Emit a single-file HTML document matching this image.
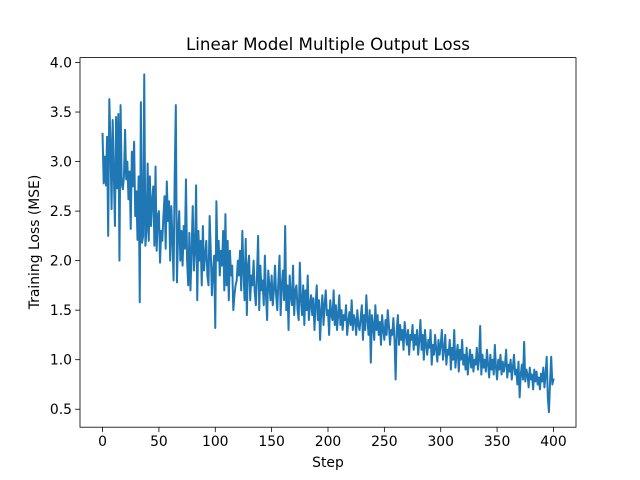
<!DOCTYPE html>
<html><head><meta charset="utf-8">
<style>
html,body{margin:0;padding:0;background:#fff;}
svg{display:block;font-family:"DejaVu Sans","Liberation Sans",sans-serif;}
</style></head>
<body>
<svg id="chart" width="640" height="480" viewBox="0 0 640 480">
<rect width="640" height="480" fill="#fff"/>
<text x="328" y="50" text-anchor="middle" font-size="16.7" fill="#000">Linear Model Multiple Output Loss</text>
<g id="plot"></g>
<text x="328" y="467" text-anchor="middle" font-size="13.9">Step</text>
<text transform="translate(39,242) rotate(-90)" text-anchor="middle" font-size="13.9">Training Loss (MSE)</text>
</svg>
<script>
const xTicks=[0,50,100,150,200,250,300,350,400];
const yTicks=[0.5,1.0,1.5,2.0,2.5,3.0,3.5,4.0];
const yTickLabels=["0.5","1.0","1.5","2.0","2.5","3.0","3.5","4.0"];
const lossValues=[
3.28,2.78,3.05,2.76,3.25,2.25,3.63,3.2,2.52,3.42,2.88,2.35,3.45,2.73,3.48,2.0,3.57,2.78,2.72,2.85,
3.32,2.82,3.0,2.62,2.9,2.32,3.1,2.75,3.2,2.45,2.7,2.21,2.85,1.58,3.6,2.18,2.25,3.88,2.15,2.3,
2.98,2.2,2.85,2.35,2.6,2.75,2.15,2.95,2.1,2.45,2.5,1.98,2.3,2.2,2.45,2.65,2.12,2.8,2.4,2.6,
2.0,2.55,2.22,1.8,2.85,3.57,1.78,2.25,2.5,2.0,2.3,1.95,2.35,2.12,2.82,2.0,1.75,2.28,1.7,2.1,
2.55,1.9,2.1,2.76,1.6,2.3,2.0,2.2,1.75,2.35,1.9,2.05,2.2,1.85,1.75,2.45,2.1,1.65,1.9,2.05,
1.32,2.6,2.0,2.2,1.85,2.1,1.95,2.3,1.7,2.47,1.75,2.2,1.6,2.1,1.85,1.95,1.5,1.65,1.75,1.8,
2.0,1.85,2.1,1.7,2.3,1.9,1.6,2.22,1.45,1.95,2.05,1.6,1.85,1.75,2.0,1.68,1.55,1.85,2.25,1.5,
1.95,1.7,1.8,1.55,2.05,1.65,1.4,1.9,1.75,1.6,1.85,1.55,1.7,1.95,1.65,1.5,1.8,2.05,1.45,1.75,
1.9,1.6,2.35,1.5,1.75,1.3,1.85,1.65,1.55,1.95,1.45,1.7,1.75,1.5,1.4,1.98,1.6,1.45,1.75,1.35,
1.7,1.5,1.85,1.4,1.55,1.65,1.45,1.62,1.3,1.55,1.75,1.4,1.6,1.2,1.5,1.65,1.35,1.55,1.7,1.45,
1.5,1.25,1.6,1.45,1.4,1.7,1.35,1.55,1.3,1.45,1.65,1.35,1.5,1.3,1.45,1.4,1.55,1.25,1.38,1.48,
1.35,1.6,1.3,1.45,1.4,1.25,1.5,1.35,1.3,1.42,1.55,1.2,1.45,1.3,1.65,1.4,1.25,1.5,0.97,1.45,
1.35,1.2,1.55,1.3,1.45,1.25,1.38,1.15,1.45,1.3,1.2,1.4,1.25,1.5,1.35,1.15,1.3,1.25,1.42,1.2,
0.8,1.3,1.45,1.15,1.35,1.2,1.3,1.1,1.38,1.25,1.15,1.3,1.05,1.25,1.2,1.35,1.1,1.25,1.15,1.3,
1.05,1.2,1.4,1.1,1.25,1.0,1.3,1.15,1.05,1.2,1.12,1.3,0.95,1.15,1.05,1.25,1.1,0.98,1.2,1.05,
1.15,1.3,1.0,1.1,1.25,0.95,1.1,1.05,1.2,0.9,1.12,1.0,1.3,0.92,1.05,1.15,0.88,1.1,1.0,1.2,
0.95,1.05,0.9,1.12,0.85,1.0,1.1,0.92,1.05,0.88,1.0,0.95,1.12,0.9,1.0,1.34,0.85,1.05,0.92,1.0,
0.88,1.1,0.95,0.82,1.05,0.9,1.0,0.85,1.15,0.92,0.8,1.0,0.9,1.05,0.85,0.98,0.88,0.95,1.1,0.82,
0.95,0.88,1.0,0.8,0.92,1.05,0.85,0.9,0.75,0.98,0.62,0.85,0.95,0.8,1.18,0.78,0.9,0.85,0.72,0.92,
0.8,0.85,0.7,0.9,0.78,0.88,0.75,0.82,0.7,0.86,0.78,0.92,0.72,0.85,1.03,0.62,0.47,0.78,1.03,0.75,
0.8];

const L=80,R=576,T=57.6,B=427.2;
const xMin=-20,xMax=420,yMin=0.3185,yMax=4.0495;
const sx=v=>L+(v-xMin)/(xMax-xMin)*(R-L);
const sy=v=>B-(v-yMin)/(yMax-yMin)*(B-T);
const NS="http://www.w3.org/2000/svg";
const g=document.getElementById('plot');
function mk(tag,attrs,parent){const e=document.createElementNS(NS,tag);for(const k in attrs)e.setAttribute(k,attrs[k]);(parent||g).appendChild(e);return e;}

let d="";
lossValues.forEach((v,i)=>{d+=(i?"L":"M")+sx(i).toFixed(2)+","+sy(v).toFixed(2);});
const line=mk('path',{d:d,fill:'none',stroke:'#1f77b4','stroke-width':2,'stroke-linejoin':'round','stroke-linecap':'square'});



const frame=mk('rect',{x:L,y:T,width:R-L,height:B-T,fill:'none',stroke:'#000','stroke-width':0.8});



xTicks.forEach(t=>{
  const x=sx(t);
  const tk=mk('line',{x1:x,x2:x,y1:B,y2:B+4.9,stroke:'#000','stroke-width':0.8});
  
  
  const tx=mk('text',{x:x,y:B+19,'text-anchor':'middle','font-size':13.9,fill:'#000'});
  tx.textContent=String(t);
  
  
});
yTicks.forEach((t,i)=>{
  const y=sy(t);
  const tk=mk('line',{x1:L-4.9,x2:L,y1:y,y2:y,stroke:'#000','stroke-width':0.8});
  
  
  const tx=mk('text',{x:L-8,y:y+5,'text-anchor':'end','font-size':13.9,fill:'#000'});
  tx.textContent=yTickLabels[i];
  
  
});
</script>
</body></html>
